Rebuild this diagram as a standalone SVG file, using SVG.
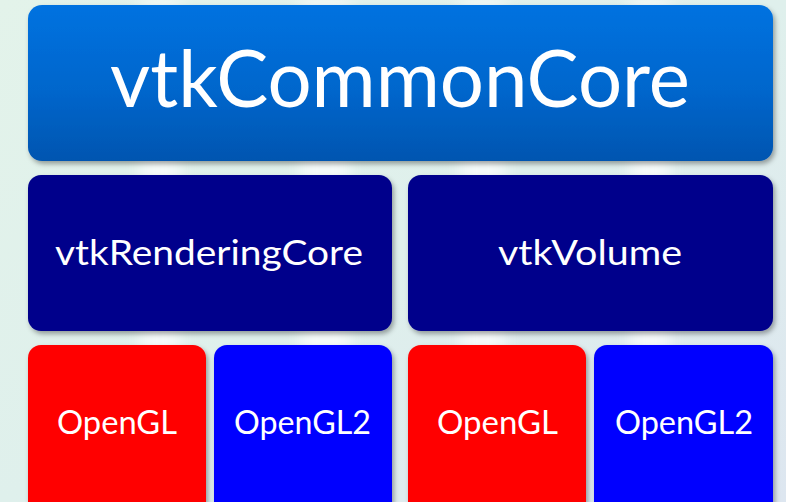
<svg xmlns="http://www.w3.org/2000/svg" width="786" height="502" viewBox="0 0 786 502">
<defs>
<linearGradient id="bg" x1="0" y1="0" x2="1" y2="1">
<stop offset="0" stop-color="#e3f3ea"/>
<stop offset="0.5" stop-color="#dff0ec"/>
<stop offset="1" stop-color="#dde6f0"/>
</linearGradient>
<linearGradient id="topg" x1="0" y1="0" x2="0" y2="1">
<stop offset="0" stop-color="#0072e0"/>
<stop offset="0.55" stop-color="#0066cc"/>
<stop offset="1" stop-color="#0055b0"/>
</linearGradient>
<filter id="sh" x="-5%" y="-5%" width="115%" height="125%">
<feDropShadow dx="2" dy="3" stdDeviation="2.5" flood-color="#000" flood-opacity="0.35"/>
</filter>
<filter id="blur"><feGaussianBlur stdDeviation="8"/></filter>
</defs>
<style>
.box{filter:url(#sh)}
.lbl{font-family:Lato,"Open Sans","Liberation Sans",sans-serif;fill:#fff;text-anchor:middle}
.big{font-size:80px}
.mid{font-size:34px}
.sm{font-size:33px}
</style>
<rect width="786" height="502" fill="url(#bg)"/>
<g filter="url(#blur)" fill="#ffffff" opacity="0.7">
<rect x="140" y="0" width="40" height="502"/>
<rect x="300" y="0" width="50" height="502"/>
<rect x="460" y="0" width="45" height="502"/>
<rect x="630" y="0" width="40" height="502"/>
</g>
<g id="connectors"/>
<g id="vtkCommonCore">
<rect class="box" x="28" y="5" width="745" height="156" rx="14" fill="url(#topg)"/>
<text class="lbl big" x="400" y="107" textLength="580" lengthAdjust="spacingAndGlyphs">vtkCommonCore</text>
</g>
<g id="vtkRenderingCore">
<rect class="box" x="28" y="175" width="364" height="156" rx="13" fill="#00008b"/>
<text class="lbl mid" x="209" y="265" textLength="308" lengthAdjust="spacingAndGlyphs">vtkRenderingCore</text>
</g>
<g id="vtkVolume">
<rect class="box" x="408" y="175" width="365" height="156" rx="13" fill="#00008b"/>
<text class="lbl mid" x="590" y="265" textLength="184" lengthAdjust="spacingAndGlyphs">vtkVolume</text>
</g>
<g id="OpenGL-left">
<rect class="box" x="28" y="345" width="178" height="180" rx="13" fill="#ff0000"/>
<text class="lbl sm" x="117" y="434" textLength="120" lengthAdjust="spacingAndGlyphs">OpenGL</text>
</g>
<g id="OpenGL2-left">
<rect class="box" x="214" y="345" width="178" height="180" rx="13" fill="#0000ff"/>
<text class="lbl sm" x="302.5" y="434" textLength="137" lengthAdjust="spacingAndGlyphs">OpenGL2</text>
</g>
<g id="OpenGL-right">
<rect class="box" x="408" y="345" width="178" height="180" rx="13" fill="#ff0000"/>
<text class="lbl sm" x="497.5" y="434" textLength="121" lengthAdjust="spacingAndGlyphs">OpenGL</text>
</g>
<g id="OpenGL2-right">
<rect class="box" x="594" y="345" width="179" height="180" rx="13" fill="#0000ff"/>
<text class="lbl sm" x="684" y="434" textLength="138" lengthAdjust="spacingAndGlyphs">OpenGL2</text>
</g>
</svg>
